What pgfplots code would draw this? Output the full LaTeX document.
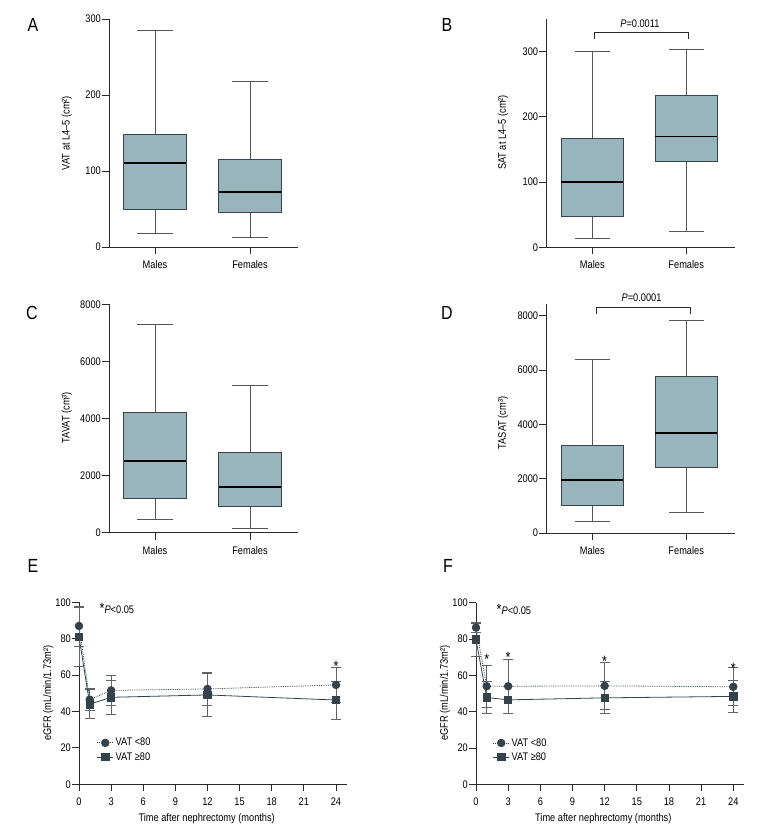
\documentclass[border=0pt]{standalone}
\usepackage{fontspec}
\setmainfont{Liberation Sans}[FakeStretch=0.84]
\usepackage{pgfplots}
\pgfplotsset{compat=1.18}
\usepgfplotslibrary{statistics}
\definecolor{boxfill}{HTML}{98B4BD}
\definecolor{boxdraw}{HTML}{3A4448}
\definecolor{whisk}{HTML}{555555}
\definecolor{axiscol}{HTML}{2A2A2A}
\definecolor{markcol}{HTML}{34434B}
\definecolor{errcol}{HTML}{5F6468}
\newcommand\tickfont{\fontsize{11}{13}\selectfont}
\newcommand\letfont{\fontsize{19}{22}\selectfont}
\pgfplotsset{
 panel/.style={scale only axis, axis x line=bottom, axis y line=left,
   axis line style={-, draw=axiscol, line width=0.9pt},
   tick align=outside, major tick length=7pt,
   tick style={draw=axiscol, line width=0.9pt},
   ticklabel style={font=\tickfont},
   yticklabel style={inner sep=1pt},
   xticklabel style={yshift=-3pt},
   /pgf/number format/assume math mode=true,
   /pgf/number format/set thousands separator={},
   scaled y ticks=false, clip=false, anchor=south west},
 boxpanel/.style={panel, ymin=0, xtick={1,2}, xticklabels={Males,Females},
   boxplot/draw direction=y,
   boxplot/every median/.style={draw=black, line width=1.8pt},
   boxplot/every whisker/.style={draw=whisk, line width=0.9pt, fill=none},
   boxplot/every box/.style={draw=boxdraw, fill=boxfill, line width=0.9pt}},
 bx/.style={boxplot prepared={#1, box extend=0.66, whisker extend=0.37}},
 lt/.style={markcol, densely dotted, line width=0.8pt, mark=*, mark size=3.8pt,
   mark options={solid, fill=markcol, draw=markcol},
   error bars/.cd, y dir=both, y explicit,
   error bar style={errcol, solid, line width=0.8pt},
   error mark options={rotate=90, errcol, mark size=5pt, line width=0.8pt, solid}},
 ge/.style={markcol, solid, line width=0.8pt, mark=square*, mark size=3.7pt,
   mark options={solid, fill=markcol, draw=markcol},
   error bars/.cd, y dir=both, y explicit,
   error bar style={errcol, solid, line width=0.8pt},
   error mark options={rotate=90, errcol, mark size=5pt, line width=0.8pt, solid}},
 egfr/.style={panel, xmin=0, xmax=25, ymin=0, ymax=100,
   xtick={0,3,...,24}, ytick={0,20,...,100},
   legend image code/.code={\draw[mark repeat=2, mark phase=2, ##1] plot coordinates {(0pt,0pt) (8pt,0pt) (16pt,0pt)};},
   legend style={draw=none, fill=none, font=\tickfont, anchor=north west,
     inner sep=0pt, row sep=1pt, cells={anchor=west}}},
}
\begin{document}
\begin{tikzpicture}
\path[use as bounding box] (0pt,0pt) rectangle (780pt,840pt);
% A
\begin{axis}[boxpanel, at={(109pt,593pt)}, width=189pt, height=228pt,
  xmin=0.516, xmax=2.505, ymax=300, ytick={0,100,200,300}]
\addplot[bx={draw position=1,lower whisker=18,lower quartile=49,median=111,upper quartile=148.5,upper whisker=285}] coordinates {};
\addplot[bx={draw position=2,lower whisker=12.3,lower quartile=46,median=72,upper quartile=114.7,upper whisker=218}] coordinates {};
\end{axis}
% B
\begin{axis}[boxpanel, at={(546.3pt,592.7pt)}, width=188.7pt, height=228.2pt,
  xmin=0.51, xmax=2.52, ymax=350, ytick={0,100,200,300}]
\addplot[bx={draw position=1,lower whisker=13.3,lower quartile=47.5,median=100.7,upper quartile=167,upper whisker=300}] coordinates {};
\addplot[bx={draw position=2,lower whisker=24.5,lower quartile=131,median=170,upper quartile=232.5,upper whisker=304}] coordinates {};
\draw[axiscol, line width=0.8pt] (axis cs:1.02,319) -- (axis cs:1.02,330) -- (axis cs:2.02,330) -- (axis cs:2.02,319);
\node[font=\tickfont] at (axis cs:1.507,343.4) {\textit{P}=0.0011};
\end{axis}
% C
\begin{axis}[boxpanel, at={(109pt,307.3pt)}, width=189pt, height=228.4pt,
  xmin=0.516, xmax=2.505, ymax=8000, ytick={0,2000,4000,6000,8000}]
\addplot[bx={draw position=1,lower whisker=467,lower quartile=1203,median=2499,upper quartile=4216,upper whisker=7311}] coordinates {};
\addplot[bx={draw position=2,lower whisker=152,lower quartile=923,median=1600,upper quartile=2803,upper whisker=5174}] coordinates {};
\end{axis}
% D
\begin{axis}[boxpanel, at={(546.3pt,307pt)}, width=188.7pt, height=229pt,
  xmin=0.51, xmax=2.52, ymax=8440, ytick={0,2000,4000,6000,8000}]
\addplot[bx={draw position=1,lower whisker=418,lower quartile=1008,median=1966,upper quartile=3220,upper whisker=6378}] coordinates {};
\addplot[bx={draw position=2,lower whisker=750,lower quartile=2433,median=3674,upper quartile=5763,upper whisker=7828}] coordinates {};
\draw[axiscol, line width=0.8pt] (axis cs:1.04,8061) -- (axis cs:1.04,8319) -- (axis cs:2.05,8319) -- (axis cs:2.05,8061);
\node[font=\tickfont] at (axis cs:1.525,8676) {\textit{P}=0.0001};
\end{axis}
% E
\begin{axis}[egfr, at={(79pt,55.7pt)}, width=267.7pt, height=182pt,
  legend style={at={(axis cs:1.65,26.5)}}]
\addplot[lt] coordinates {(0,87) +- (0,11) (1,46.5) +- (0,6) (3,51.6) +- (0,8.4) (12,52.4) +- (0,9.3) (24,54.6) +- (0,9.5)};
\addlegendentry{VAT <80}
\addplot[ge] coordinates {(0,81) +- (0,16) (1,44) +- (0,8) (3,47.8) +- (0,9.2) (12,49.1) +- (0,12) (24,46.3) +- (0,10.5)};
\addlegendentry{VAT ≥80}
\node[font=\fontsize{15}{15}\selectfont, anchor=base] at (axis cs:24,62.2) {*};
\node[font=\tickfont, anchor=west] at (axis cs:1.6,96.7) {{\fontsize{15}{15}\selectfont*}\textit{P}<0.05};
\end{axis}
% F
\begin{axis}[egfr, at={(476pt,55.7pt)}, width=268pt, height=181.6pt,
  legend style={at={(axis cs:1.55,26.5)}}]
\addplot[lt] coordinates {(0,86.3) +- (0,2.7) (1,54) +- (0,11.6) (3,54) +- (0,14.7) (12,54.2) +- (0,12.8) (24,53.7) +- (0,10.5)};
\addlegendentry{VAT <80}
\addplot[ge] coordinates {(0,79.7) +- (0,9) (1,47.8) +- (0,8.8) (3,46.5) +- (0,7.5) (12,47.6) +- (0,8.8) (24,48.4) +- (0,8.8)};
\addlegendentry{VAT ≥80}
\node[font=\fontsize{15}{15}\selectfont, anchor=base] at (axis cs:1,66.2) {*};
\node[font=\fontsize{15}{15}\selectfont, anchor=base] at (axis cs:3,67.2) {*};
\node[font=\fontsize{15}{15}\selectfont, anchor=base] at (axis cs:12,64.8) {*};
\node[font=\fontsize{15}{15}\selectfont, anchor=base] at (axis cs:24,61.2) {*};
\node[font=\tickfont, anchor=west] at (axis cs:1.6,96.3) {{\fontsize{15}{15}\selectfont*}\textit{P}<0.05};
\end{axis}
% panel letters
\node[font=\letfont] at (33pt,815pt) {A};
\node[font=\letfont] at (447pt,815pt) {B};
\node[font=\letfont] at (32pt,527pt) {C};
\node[font=\letfont] at (447pt,527pt) {D};
\node[font=\letfont] at (33pt,274pt) {E};
\node[font=\letfont] at (448pt,274pt) {F};
% axis labels
\node[font=\tickfont, rotate=90] at (66.7pt,707pt) {VAT at L4–5 (cm²)};
\node[font=\tickfont, rotate=90] at (503pt,707.5pt) {SAT at L4–5 (cm²)};
\node[font=\tickfont, rotate=90] at (66.7pt,422.3pt) {TAVAT (cm³)};
\node[font=\tickfont, rotate=90] at (503pt,417pt) {TASAT (cm³)};
\node[font=\tickfont, rotate=90] at (48.3pt,147pt) {eGFR (mL/min/1.73m²)};
\node[font=\tickfont, rotate=90] at (445pt,147pt) {eGFR (mL/min/1.73m²)};
\node[font=\tickfont] at (206.7pt,21.7pt) {Time after nephrectomy (months)};
\node[font=\tickfont] at (603.3pt,21.7pt) {Time after nephrectomy (months)};
\end{tikzpicture}
\end{document}
